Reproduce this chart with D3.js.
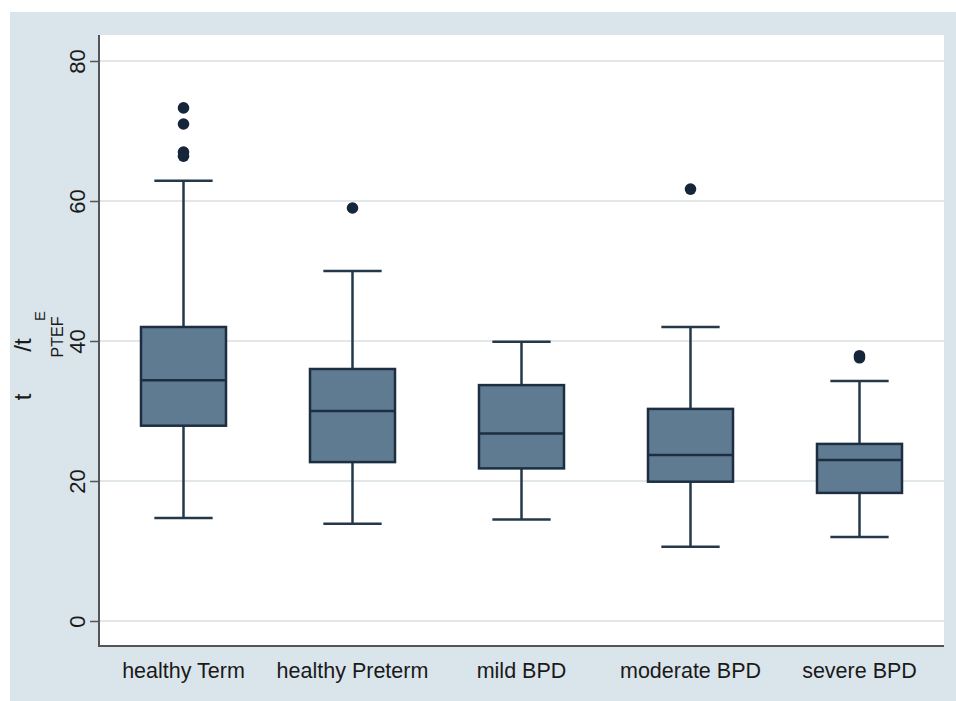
<!DOCTYPE html>
<html><head><meta charset="utf-8">
<script src="https://cdn.jsdelivr.net/npm/d3@7"></script>
<style>body{margin:0;background:#fff}svg{display:block;font-family:"Liberation Sans",Arial,sans-serif}</style>
</head><body><svg id="c" width="956" height="701"></svg>
<script>
const categories = ["healthy Term","healthy Preterm","mild BPD","moderate BPD","severe BPD"];
const lowerWhisker = [14.7, 13.9, 14.5, 10.6, 12.0];
const q1 = [27.9, 22.7, 21.8, 19.9, 18.3];
const median = [34.4, 30.0, 26.8, 23.7, 23.0];
const q3 = [42.0, 36.0, 33.7, 30.3, 25.3];
const upperWhisker = [62.9, 50.0, 39.9, 42.0, 34.3];
const outliers = [[73.3, 71.0, 67.0, 66.4], [59.0], [], [61.7], [37.9, 37.6]];
const yTicks = [0, 20, 40, 60, 80];

const svg = d3.select("#c");
const L = 99, R = 944, T = 35, B = 646;
svg.append("rect").attr("x",10).attr("y",12).attr("width",946).attr("height",689).attr("fill","#D9E4EB");
svg.append("rect").attr("x",L).attr("y",T).attr("width",R-L).attr("height",B-T).attr("fill","#fff");

const y = d3.scaleLinear().domain([-3.571, 83.714]).range([B, T]);
const x = d3.scaleBand().domain(categories).range([L, R]).padding(0);
const bw = x.bandwidth();

// gridlines
svg.append("g").selectAll("line").data(yTicks).join("line")
  .attr("x1",L).attr("x2",R).attr("y1",d=>y(d)).attr("y2",d=>y(d))
  .attr("stroke","#E2E7EA").attr("stroke-width",2);

// y axis
const ya = svg.append("g").attr("transform",`translate(${L},0)`)
  .call(d3.axisLeft(y).tickValues(yTicks).tickSize(9).tickPadding(0));
ya.select(".domain").remove();
ya.selectAll(".tick line").attr("stroke","#555").attr("stroke-width",1.5);
ya.selectAll(".tick text").attr("transform","translate(-14,0) rotate(-90)")
  .attr("x",0).attr("dy",0).attr("text-anchor","middle")
  .attr("font-size",22).attr("fill","#1a1a1a").attr("font-family","Liberation Sans, Arial, sans-serif");
svg.append("line").attr("x1",L).attr("x2",L).attr("y1",T).attr("y2",B+1).attr("stroke","#555").attr("stroke-width",2);
svg.append("line").attr("x1",L-1).attr("x2",R).attr("y1",B).attr("y2",B).attr("stroke","#555").attr("stroke-width",2);

// x labels
svg.append("g").selectAll("text").data(categories).join("text")
  .attr("x",d=>x(d)+bw/2).attr("y",678).attr("text-anchor","middle")
  .attr("font-size",21.5).attr("fill","#1a1a1a").text(d=>d);

// y title
const title = [
  {t:"t", x:22, y:397, s:24},
  {t:"/t", x:22, y:345, s:24},
  {t:"E", x:39, y:316, s:15},
  {t:"PTEF", x:57, y:337, s:16}
];
svg.append("g").selectAll("text").data(title).join("text")
  .attr("transform",d=>`translate(${d.x},${d.y}) rotate(-90)`)
  .attr("text-anchor","middle").attr("dominant-baseline","central")
  .attr("font-size",d=>d.s).attr("fill","#1a1a1a").text(d=>d.t);

// boxes
const g = svg.append("g");
const stroke = "#25384A", sw = 2.5;
categories.forEach((c,i)=>{
  const cx = x(c)+bw/2;
  const boxW = bw*0.503, capW = bw*0.345;
  g.append("line").attr("x1",cx).attr("x2",cx).attr("y1",y(upperWhisker[i])).attr("y2",y(q3[i])).attr("stroke",stroke).attr("stroke-width",sw);
  g.append("line").attr("x1",cx).attr("x2",cx).attr("y1",y(q1[i])).attr("y2",y(lowerWhisker[i])).attr("stroke",stroke).attr("stroke-width",sw);
  g.append("line").attr("x1",cx-capW/2).attr("x2",cx+capW/2).attr("y1",y(upperWhisker[i])).attr("y2",y(upperWhisker[i])).attr("stroke",stroke).attr("stroke-width",sw);
  g.append("line").attr("x1",cx-capW/2).attr("x2",cx+capW/2).attr("y1",y(lowerWhisker[i])).attr("y2",y(lowerWhisker[i])).attr("stroke",stroke).attr("stroke-width",sw);
  g.append("rect").attr("x",cx-boxW/2).attr("width",boxW).attr("y",y(q3[i])).attr("height",y(q1[i])-y(q3[i]))
    .attr("fill","#5F7B92").attr("stroke","#1C2E40").attr("stroke-width",sw);
  g.append("line").attr("x1",cx-boxW/2).attr("x2",cx+boxW/2).attr("y1",y(median[i])).attr("y2",y(median[i])).attr("stroke","#1C2E40").attr("stroke-width",sw);
  g.selectAll(null).data(outliers[i]).join("circle").attr("cx",cx).attr("cy",d=>y(d)).attr("r",5.8).attr("fill","#16263A");
});
</script></body></html>
